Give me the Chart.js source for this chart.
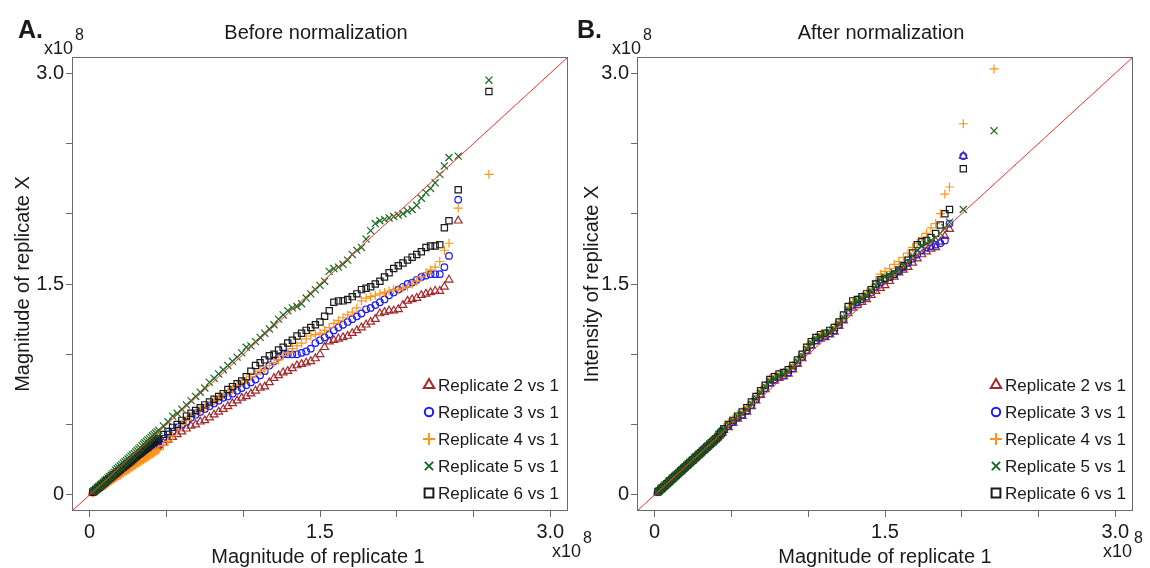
<!DOCTYPE html>
<html>
<head>
<meta charset="utf-8">
<script src="https://cdn.jsdelivr.net/npm/chart.js@4.4.1/dist/chart.umd.min.js"></script>
<style>
  html, body { margin: 0; padding: 0; background: #fff; }
  #wrap { position: relative; width: 1150px; height: 568px; }
  canvas { position: absolute; top: 0; }
</style>
</head>
<body>
<div id="wrap">
  <canvas id="chartA" width="600" height="568" style="left:0"></canvas>
  <canvas id="chartB" width="575" height="568" style="left:575px"></canvas>
</div>
<script>
const FONT = '"Liberation Sans", Arial, Helvetica, sans-serif';

// axis setup (units of 1e8)
const axisRange = [-0.115, 3.115];
const tickValues = [0, 0.5, 1.0, 1.5, 2.0, 2.5, 3.0];
const tickLabels = ["0", "", "", "1.5", "", "", "3.0"];

const seriesNames = ["Replicate 2 vs 1", "Replicate 3 vs 1", "Replicate 4 vs 1", "Replicate 5 vs 1", "Replicate 6 vs 1"];
const seriesColors = ["#a3282b", "#1a1aff", "#ff9416", "#1b6b22", "#1a1a1a"];
const seriesMarkers = ["triangle", "circle", "cross", "crossRot", "rect"];
const markerRadius = [4.5, 3.3, 4.5, 5, 4.4];
const drawOrder = [4, 3, 2, 0, 1];

// Panel A: before normalization (replicate 1 quantiles on x)
const rep1Before = [0.02,0.03,0.04,0.05,0.06,0.07,0.08,0.09,0.10,0.11,0.12,0.13,0.14,0.15,0.16,0.17,0.18,0.19,0.20,0.21,0.22,0.23,0.24,0.25,0.26,0.27,0.28,0.29,0.30,0.31,0.32,0.33,0.34,0.35,0.36,0.37,0.38,0.39,0.40,0.41,0.42,0.43,0.44,0.45,
  0.48,0.51,0.54,0.57,0.60,0.63,0.66,0.69,0.72,0.75,0.78,0.81,0.84,0.87,0.90,0.93,0.96,0.99,1.02,1.05,1.08,1.11,1.14,1.17,1.20,1.23,1.26,1.29,1.32,1.35,1.38,1.41,1.44,1.47,1.50,1.53,1.56,1.59,1.62,1.65,1.68,1.71,1.74,1.77,1.80,1.83,1.86,1.89,1.92,1.95,1.98,2.01,2.04,2.07,2.10,2.13,2.16,2.19,2.22,2.25,2.28,2.31,
  2.34,2.40,2.60];
const rep2Before = [0.017,0.025,0.033,0.041,0.049,0.057,0.066,0.074,0.082,0.09,0.098,0.106,0.114,0.122,0.13,0.138,0.146,0.154,0.162,0.17,0.178,0.186,0.194,0.202,0.21,0.217,0.225,0.233,0.241,0.249,0.256,0.264,0.272,0.28,0.287,0.295,0.302,0.31,0.317,0.325,0.332,0.34,0.347,0.354,
  0.37,0.39,0.41,0.43,0.45,0.47,0.49,0.50,0.52,0.53,0.55,0.57,0.59,0.61,0.63,0.65,0.67,0.69,0.70,0.72,0.74,0.76,0.77,0.80,0.83,0.85,0.87,0.88,0.90,0.92,0.93,0.94,0.95,0.97,1.00,1.05,1.09,1.10,1.11,1.12,1.13,1.15,1.17,1.19,1.21,1.23,1.25,1.29,1.30,1.31,1.31,1.32,1.35,1.38,1.39,1.40,1.42,1.43,1.44,1.45,1.45,1.48,
  1.53,1.95,null];
const rep3Before = [0.017,0.026,0.034,0.043,0.051,0.06,0.068,0.077,0.085,0.094,0.10,0.11,0.12,0.128,0.136,0.145,0.153,0.16,0.17,0.178,0.187,0.195,0.204,0.212,0.22,0.23,0.238,0.246,0.255,0.263,0.272,0.28,0.29,0.297,0.306,0.314,0.322,0.33,0.34,0.348,0.356,0.365,0.373,0.38,
  0.40,0.43,0.45,0.48,0.50,0.52,0.55,0.57,0.59,0.61,0.63,0.65,0.67,0.69,0.70,0.72,0.74,0.76,0.78,0.80,0.82,0.85,0.88,0.92,0.95,0.98,1.00,1.00,1.00,1.00,1.01,1.02,1.04,1.08,1.10,1.12,1.14,1.17,1.19,1.21,1.23,1.25,1.27,1.29,1.32,1.33,1.35,1.37,1.39,1.42,1.44,1.46,1.48,1.50,1.51,1.53,1.55,1.56,1.57,1.57,1.57,1.62,
  1.70,2.10,null];
const rep4Before = [0.014,0.021,0.028,0.035,0.043,0.05,0.057,0.064,0.071,0.078,0.085,0.093,0.10,0.107,0.114,0.121,0.128,0.135,0.142,0.15,0.157,0.164,0.171,0.178,0.185,0.192,0.20,0.207,0.214,0.221,0.228,0.235,0.242,0.25,0.257,0.264,0.271,0.278,0.286,0.293,0.30,0.308,0.316,0.323,
  0.35,0.38,0.42,0.46,0.50,0.53,0.56,0.58,0.60,0.62,0.64,0.67,0.69,0.71,0.73,0.75,0.78,0.80,0.82,0.84,0.86,0.88,0.89,0.92,0.94,0.96,0.99,1.01,1.04,1.06,1.08,1.11,1.13,1.14,1.15,1.17,1.19,1.22,1.24,1.26,1.28,1.30,1.33,1.38,1.40,1.41,1.42,1.43,1.44,1.45,1.46,1.46,1.47,1.48,1.50,1.52,1.55,1.58,1.60,1.62,1.66,1.74,
  1.79,2.04,2.28];
const rep5Before = [0.02,0.03,0.04,0.05,0.06,0.07,0.08,0.09,0.10,0.11,0.12,0.13,0.14,0.15,0.16,0.175,0.185,0.195,0.205,0.215,0.225,0.235,0.245,0.255,0.265,0.275,0.285,0.295,0.305,0.315,0.325,0.335,0.35,0.36,0.37,0.38,0.39,0.40,0.41,0.42,0.43,0.44,0.45,0.46,
  0.49,0.52,0.56,0.58,0.61,0.64,0.67,0.70,0.73,0.76,0.80,0.83,0.86,0.89,0.92,0.95,0.98,1.01,1.05,1.06,1.09,1.12,1.15,1.18,1.21,1.25,1.28,1.31,1.33,1.34,1.36,1.40,1.43,1.46,1.49,1.52,1.59,1.61,1.62,1.64,1.67,1.71,1.74,1.76,1.82,1.88,1.93,1.95,1.96,1.97,1.98,1.99,2.00,2.02,2.03,2.06,2.11,2.15,2.18,2.22,2.28,2.34,
  2.40,2.41,2.95];
const rep6Before = [0.018,0.027,0.036,0.045,0.054,0.063,0.072,0.081,0.09,0.10,0.108,0.117,0.126,0.135,0.144,0.153,0.162,0.171,0.18,0.19,0.198,0.207,0.216,0.225,0.234,0.243,0.252,0.261,0.27,0.28,0.288,0.297,0.306,0.315,0.324,0.333,0.342,0.35,0.36,0.37,0.378,0.387,0.395,0.40,
  0.43,0.45,0.48,0.50,0.53,0.56,0.58,0.60,0.62,0.64,0.66,0.68,0.70,0.72,0.75,0.77,0.79,0.81,0.84,0.88,0.92,0.94,0.96,0.99,1.00,1.03,1.05,1.08,1.10,1.13,1.15,1.17,1.19,1.21,1.23,1.27,1.31,1.37,1.38,1.38,1.39,1.41,1.43,1.46,1.47,1.48,1.50,1.52,1.55,1.58,1.61,1.63,1.65,1.67,1.69,1.71,1.73,1.76,1.77,1.77,1.78,1.90,
  1.95,2.17,2.87];

// Panel B: after normalization
const rep1After = [0.02,0.03,0.04,0.05,0.06,0.07,0.08,0.09,0.10,0.11,0.12,0.13,0.14,0.15,0.16,0.17,0.18,0.19,0.20,0.21,0.22,0.23,0.24,0.25,0.26,0.27,0.28,0.29,0.30,0.31,0.32,0.33,0.34,0.35,0.36,0.37,0.38,0.39,0.40,0.41,0.42,0.43,0.44,0.45,
  0.48,0.51,0.54,0.57,0.60,0.63,0.66,0.69,0.72,0.75,0.78,0.81,0.84,0.87,0.90,0.93,0.96,0.99,1.02,1.05,1.08,1.11,1.14,1.17,1.20,1.23,1.26,1.29,1.32,1.35,1.38,1.41,1.44,1.47,1.50,1.53,1.56,1.59,1.62,1.65,1.68,1.71,1.74,1.77,1.80,1.83,1.86,1.89,1.92,
  2.01,2.21];
const rep2After = [0.02,0.03,0.04,0.05,0.06,0.07,0.08,0.09,0.10,0.11,0.12,0.13,0.14,0.15,0.16,0.17,0.18,0.19,0.20,0.21,0.22,0.23,0.24,0.25,0.26,0.27,0.28,0.29,0.30,0.31,0.32,0.33,0.34,0.35,0.36,0.37,0.38,0.39,0.40,0.41,0.42,0.43,0.44,0.46,
  0.48,0.51,0.54,0.56,0.59,0.63,0.67,0.71,0.75,0.79,0.81,0.83,0.84,0.86,0.89,0.93,0.97,1.02,1.06,1.09,1.11,1.12,1.14,1.16,1.20,1.24,1.29,1.33,1.35,1.37,1.39,1.42,1.45,1.47,1.49,1.52,1.55,1.58,1.60,1.62,1.65,1.68,1.71,1.73,1.75,1.76,1.80,1.84,1.89,
  2.41,null];
const rep3After = [0.02,0.03,0.04,0.05,0.06,0.07,0.08,0.09,0.10,0.11,0.12,0.13,0.14,0.15,0.16,0.17,0.18,0.19,0.20,0.21,0.22,0.23,0.24,0.25,0.26,0.27,0.28,0.29,0.30,0.31,0.32,0.33,0.34,0.35,0.36,0.37,0.38,0.39,0.40,0.41,0.42,0.43,0.44,0.46,
  0.49,0.52,0.55,0.57,0.60,0.64,0.68,0.72,0.76,0.80,0.82,0.84,0.85,0.87,0.90,0.94,0.98,1.03,1.07,1.10,1.12,1.13,1.15,1.17,1.21,1.25,1.31,1.35,1.37,1.39,1.41,1.44,1.48,1.51,1.53,1.55,1.57,1.59,1.62,1.65,1.68,1.71,1.74,1.76,1.77,1.78,1.79,1.81,1.93,
  2.41,null];
const rep4After = [0.02,0.03,0.04,0.05,0.06,0.07,0.08,0.09,0.10,0.11,0.12,0.13,0.14,0.15,0.16,0.17,0.18,0.19,0.20,0.21,0.22,0.23,0.24,0.25,0.26,0.27,0.28,0.29,0.31,0.32,0.33,0.34,0.35,0.36,0.37,0.38,0.39,0.40,0.41,0.42,0.44,0.45,0.46,0.48,
  0.51,0.54,0.57,0.59,0.62,0.66,0.70,0.74,0.78,0.83,0.84,0.86,0.87,0.89,0.92,0.96,1.00,1.05,1.09,1.12,1.14,1.15,1.17,1.19,1.23,1.27,1.33,1.37,1.39,1.41,1.43,1.47,1.52,1.57,1.59,1.61,1.64,1.66,1.69,1.72,1.76,1.79,1.83,1.86,1.90,1.93,2.00,2.14,2.19,
  2.64,3.03];
const rep5After = [0.02,0.03,0.04,0.05,0.06,0.07,0.08,0.09,0.10,0.11,0.12,0.13,0.14,0.15,0.16,0.17,0.18,0.19,0.20,0.21,0.22,0.23,0.24,0.25,0.26,0.27,0.28,0.29,0.30,0.31,0.32,0.33,0.34,0.35,0.36,0.37,0.38,0.39,0.40,0.41,0.43,0.44,0.45,0.47,
  0.50,0.53,0.56,0.58,0.61,0.65,0.69,0.73,0.77,0.81,0.83,0.85,0.86,0.88,0.91,0.95,0.99,1.04,1.08,1.11,1.13,1.14,1.16,1.18,1.22,1.26,1.32,1.36,1.38,1.40,1.42,1.45,1.49,1.53,1.55,1.56,1.58,1.60,1.63,1.66,1.70,1.74,1.77,1.79,1.81,1.83,1.86,1.90,1.94,
  2.03,2.59];
const rep6After = [0.02,0.03,0.04,0.05,0.06,0.07,0.08,0.09,0.10,0.11,0.12,0.13,0.14,0.15,0.16,0.17,0.18,0.19,0.20,0.21,0.22,0.23,0.24,0.25,0.26,0.27,0.28,0.29,0.30,0.31,0.32,0.33,0.34,0.35,0.36,0.37,0.38,0.39,0.40,0.41,0.43,0.44,0.45,0.47,
  0.50,0.53,0.56,0.59,0.62,0.66,0.70,0.74,0.78,0.82,0.84,0.86,0.87,0.89,0.92,0.96,1.00,1.05,1.09,1.12,1.14,1.15,1.17,1.19,1.23,1.28,1.34,1.38,1.39,1.41,1.43,1.46,1.50,1.53,1.54,1.55,1.57,1.60,1.63,1.67,1.72,1.78,1.80,1.81,1.83,1.86,1.92,2.00,2.03,
  2.32,null];

function labelFor(v) {
  const i = tickValues.findIndex(t => Math.abs(t - v) < 1e-9);
  return i < 0 ? "" : tickLabels[i];
}

function drawMarker(ctx, style, x, y, r) {
  ctx.beginPath();
  if (style === "triangle") {
    ctx.moveTo(x, y - r);
    ctx.lineTo(x + 0.866 * r, y + 0.5 * r);
    ctx.lineTo(x - 0.866 * r, y + 0.5 * r);
    ctx.closePath();
  } else if (style === "circle") {
    ctx.arc(x, y, r, 0, Math.PI * 2);
  } else if (style === "cross") {
    ctx.moveTo(x - r, y); ctx.lineTo(x + r, y);
    ctx.moveTo(x, y - r); ctx.lineTo(x, y + r);
  } else if (style === "crossRot") {
    const d = r * 0.75;
    ctx.moveTo(x - d, y - d); ctx.lineTo(x + d, y + d);
    ctx.moveTo(x - d, y + d); ctx.lineTo(x + d, y - d);
  } else {
    const s = r * 0.8;
    ctx.rect(x - s, y - s, 2 * s, 2 * s);
  }
  ctx.stroke();
}

// frame, headings, axis titles and the in-plot legend
const decorPlugin = {
  id: "decor",
  afterDraw(chart, args, o) {
    const ctx = chart.ctx, a = chart.chartArea;
    ctx.save();
    ctx.strokeStyle = "#6b6b6b";
    ctx.lineWidth = 1;
    ctx.strokeRect(Math.round(a.left) + 0.5, Math.round(a.top) + 0.5,
      Math.round(a.right - a.left) - 1, Math.round(a.bottom - a.top) - 1);

    ctx.fillStyle = "#1a1a1a";
    ctx.textBaseline = "alphabetic";
    ctx.textAlign = "left";
    ctx.font = "bold 25px " + FONT;
    ctx.fillText(o.letter, o.letterX, 38);

    ctx.font = "18px " + FONT;
    ctx.fillText("x10", o.expX, 54);
    ctx.fillText("x10", o.expX2, 557);
    ctx.font = "16px " + FONT;
    ctx.fillText("8", o.expX + 31, 40);
    ctx.fillText("8", o.expX2 + 31, 543);

    ctx.textAlign = "center";
    ctx.font = "20px " + FONT;
    ctx.fillText(o.title, o.titleX, 39);
    ctx.fillText("Magnitude of replicate 1", o.xTitleX, 563);

    ctx.save();
    ctx.translate(o.yTitleX, (a.top + a.bottom) / 2);
    ctx.rotate(-Math.PI / 2);
    ctx.fillText(o.yTitle, 0, 0);
    ctx.restore();

    // legend
    ctx.textAlign = "left";
    ctx.textBaseline = "middle";
    ctx.font = "17px " + FONT;
    const legR = [6, 4.2, 6, 5.5, 5.5];
    seriesNames.forEach((name, i) => {
      const y = o.legendY + i * 27;
      ctx.strokeStyle = seriesColors[i];
      ctx.lineWidth = 2;
      drawMarker(ctx, seriesMarkers[i], o.legendX, y, legR[i]);
      ctx.fillStyle = "#1a1a1a";
      ctx.fillText(name, o.legendX + 9, y + 1);
    });
    ctx.restore();
  }
};

function buildChart(canvasId, xs, ysList, panel) {
  const datasets = ysList.map((ys, i) => ({
    label: seriesNames[i],
    data: xs.map((x, k) => ({ x: x, y: ys[k] })).filter(p => p.y !== null),
    pointStyle: seriesMarkers[i],
    pointRadius: markerRadius[i],
    borderColor: seriesColors[i],
    backgroundColor: "rgba(0,0,0,0)",
    pointBorderWidth: 1.2,
    order: drawOrder[i]
  }));
  datasets.push({
    label: "y = x",
    data: axisRange.map(v => ({ x: v, y: v })),
    showLine: true,
    borderColor: "#ff2a2a",
    borderWidth: 1,
    pointRadius: 0,
    order: -1
  });

  const tickFont = { family: FONT, size: 20 };
  const commonScale = {
    type: "linear",
    min: axisRange[0],
    max: axisRange[1],
    afterBuildTicks: s => { s.ticks = tickValues.map(v => ({ value: v })); },
    ticks: { callback: v => labelFor(v), font: tickFont, color: "#1a1a1a", autoSkip: false, maxRotation: 0 },
    grid: { drawOnChartArea: false, tickLength: 6, color: "#6b6b6b" },
    border: { display: false }
  };

  return new Chart(document.getElementById(canvasId), {
    type: "scatter",
    data: { datasets: datasets },
    options: {
      responsive: false,
      animation: false,
      devicePixelRatio: 1,
      layout: { padding: { top: 57, right: panel.padRight, left: 0, bottom: 0 } },
      scales: {
        x: Object.assign({}, commonScale, {
          afterFit: s => { s.height = 57; },
          ticks: Object.assign({}, commonScale.ticks, { padding: 3 })
        }),
        y: Object.assign({}, commonScale, {
          afterFit: s => { s.width = panel.yWidth; },
          ticks: Object.assign({}, commonScale.ticks, { padding: 2 })
        })
      },
      plugins: {
        legend: { display: false },
        tooltip: { enabled: false },
        decor: panel
      }
    },
    plugins: [decorPlugin]
  });
}

buildChart("chartA", rep1Before,
  [rep2Before, rep3Before, rep4Before, rep5Before, rep6Before],
  { padRight: 32, yWidth: 72, letter: "A.", letterX: 18, expX: 44, expX2: 552,
    title: "Before normalization", titleX: 316, xTitleX: 318,
    yTitle: "Magnitude of replicate X", yTitleX: 29, legendX: 429, legendY: 385 });

buildChart("chartB", rep1After,
  [rep2After, rep3After, rep4After, rep5After, rep6After],
  { padRight: 17, yWidth: 62, letter: "B.", letterX: 2, expX: 37, expX2: 528,
    title: "After normalization", titleX: 306, xTitleX: 310,
    yTitle: "Intensity of replicate X", yTitleX: 23, legendX: 421, legendY: 385 });
</script>
</body>
</html>
